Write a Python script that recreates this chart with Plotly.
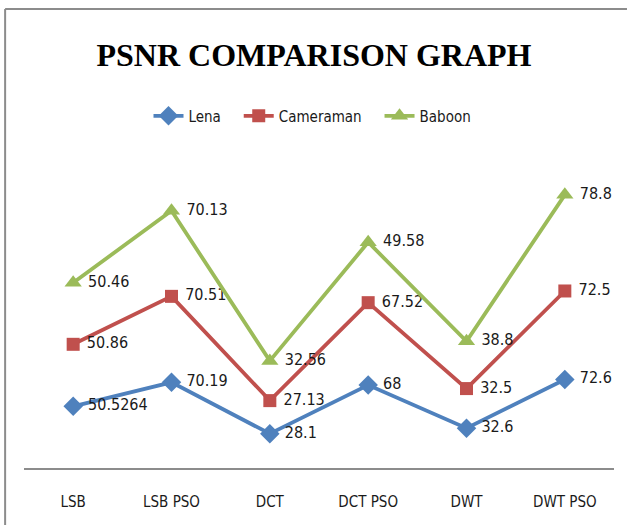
import plotly.graph_objects as go

categories = ["LSB", "LSB PSO", "DCT", "DCT PSO", "DWT", "DWT PSO"]
lena = [50.5264, 70.19, 28.1, 68, 32.6, 72.6]
cameraman = [50.86, 70.51, 27.13, 67.52, 32.5, 72.5]
baboon = [50.46, 70.13, 32.56, 49.58, 38.8, 78.8]

series = [
    ("Lena", lena, "#4F81BD", "diamond", 15),
    ("Cameraman", cameraman, "#C0504D", "square", 13),
    ("Baboon", baboon, "#9BBB59", "triangle-up", 15),
]

LABEL_FONT = "DejaVu Sans Condensed, Liberation Sans Narrow, sans-serif"
PAD = "\u00a0"

fig = go.Figure()
for name, vals, color, symbol, size in series:
    fig.add_trace(
        go.Scatter(
            x=categories,
            y=vals,
            name=name + PAD * 3,
            stackgroup="one",
            fill="none",
            mode="lines+markers+text",
            line=dict(color=color, width=3.8),
            marker=dict(symbol=symbol, size=size, color=color),
            text=[PAD + str(v) for v in vals],
            textposition="middle right",
            textfont=dict(family=LABEL_FONT, size=16, color="#1a1a1a"),
            cliponaxis=False,
        )
    )

# outer chart border: only the left and top edges show in the reference
border = dict(color="#8c8c8c", width=2)
fig.add_shape(type="line", xref="paper", yref="paper",
              x0=-0.032, x1=-0.032, y0=-0.3, y1=1.505, line=border)
fig.add_shape(type="line", xref="paper", yref="paper",
              x0=-0.032, x1=1.022, y0=1.505, y1=1.505, line=border)

fig.update_layout(
    width=628,
    height=525,
    margin=dict(l=24, r=14, t=163, b=57, autoexpand=False),
    plot_bgcolor="white",
    paper_bgcolor="white",
    title=dict(
        text="<b>PSNR COMPARISON GRAPH</b>",
        x=0.5,
        xanchor="center",
        y=0.895,
        yanchor="middle",
        font=dict(family="Liberation Serif, Times New Roman, serif", size=32, color="black"),
    ),
    legend=dict(
        orientation="h",
        x=0.5,
        xanchor="center",
        y=1.154,
        yanchor="middle",
        font=dict(family=LABEL_FONT, size=15, color="#1a1a1a"),
        itemwidth=30,
    ),
    xaxis=dict(
        showgrid=False,
        showline=True,
        linecolor="#8c8c8c",
        linewidth=1.5,
        ticks="",
        ticklabelstandoff=19,
        automargin=False,
        tickfont=dict(family=LABEL_FONT, size=15, color="#1a1a1a"),
        range=[-0.5, 5.5],
    ),
    yaxis=dict(
        range=[0, 250],
        showgrid=False,
        zeroline=False,
        showticklabels=False,
        showline=False,
        automargin=False,
    ),
    showlegend=True,
)

fig.write_html(
    "out.html",
    config={"displayModeBar": False},
    post_script="document.body.style.margin='0';document.body.style.overflow='hidden';",
)
